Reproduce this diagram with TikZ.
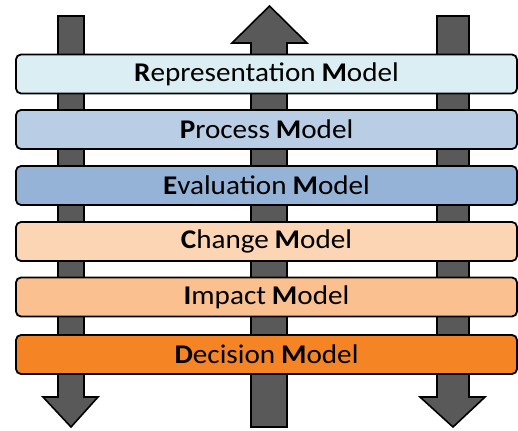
\documentclass[tikz,border=0pt]{standalone}
\usepackage{fontspec}
\setmainfont{Carlito}
\begin{document}
\begin{tikzpicture}[x=1pt,y=-1pt,
  arrowshape/.style={fill=arrowgray,draw=black,line width=1.6pt,line join=miter},
  bar/.style={draw=black,line width=1.8pt,rounded corners=5pt,minimum width=501pt,minimum height=39pt,inner sep=0pt,font=\fontsize{27}{30}\selectfont,text=black}]
\definecolor{arrowgray}{HTML}{595959}
\definecolor{cRep}{HTML}{DBEEF4}
\definecolor{cProc}{HTML}{B9CDE5}
\definecolor{cEval}{HTML}{95B3D7}
\definecolor{cChg}{HTML}{FCD5B5}
\definecolor{cImp}{HTML}{FAC090}
\definecolor{cDec}{HTML}{F58425}
\useasboundingbox (0,0) rectangle (518,430);
% arrows
\draw[arrowshape] (58,16) -- (84,16) -- (84,397) -- (98,397) -- (71,427) -- (43,397) -- (58,397) -- cycle;
\draw[arrowshape] (251,427) -- (251,43) -- (232,43) -- (269.5,6) -- (307,43) -- (287,43) -- (287,427) -- cycle;
\draw[arrowshape] (437,16) -- (469,16) -- (469,397) -- (485,397) -- (453,427) -- (420,397) -- (437,397) -- cycle;
% bars
\node[bar,fill=cRep]  (rep)  at (266.5,74)  {\scalebox{1.08}[1]{\textbf{R}epresentation\hspace{0.2em}\textbf{M}odel}};
\node[bar,fill=cProc] (proc) at (266.5,129.5) {\scalebox{1.08}[1]{\textbf{P}rocess\hspace{0.2em}\textbf{M}odel}};
\node[bar,fill=cEval] (eval) at (266.5,185.5) {\scalebox{1.08}[1]{\textbf{E}valuation\hspace{0.2em}\textbf{M}odel}};
\node[bar,fill=cChg]  (chg)  at (266.5,241.5) {\scalebox{1.08}[1]{\textbf{C}hange\hspace{0.2em}\textbf{M}odel}};
\node[bar,fill=cImp]  (imp)  at (266.5,297) {\scalebox{1.08}[1]{\textbf{I}mpact\hspace{0.2em}\textbf{M}odel}};
\node[bar,fill=cDec]  (dec)  at (266.5,354.5) {\scalebox{1.08}[1]{\textbf{D}ecision\hspace{0.2em}\textbf{M}odel}};
\end{tikzpicture}
\end{document}
